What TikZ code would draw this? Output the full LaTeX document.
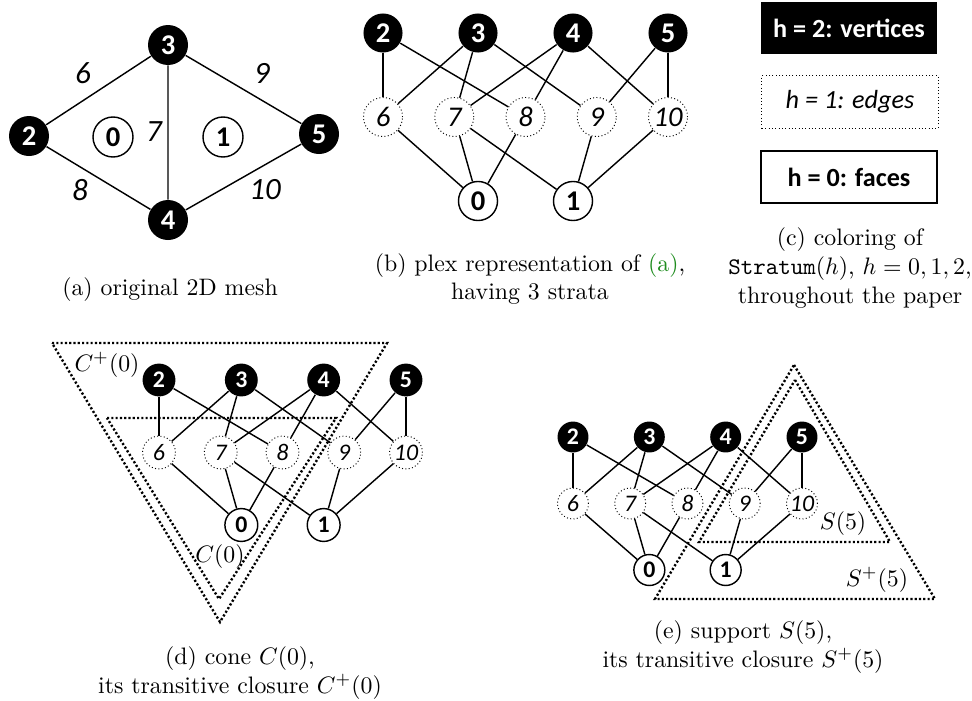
\documentclass[tikz,border=0pt]{standalone}
\usepackage{fontspec}
\newfontfamily\calibri{Carlito}
\usetikzlibrary{positioning}
\definecolor{linkgreen}{RGB}{30,140,30}

% one plex: name prefix, x of first/last column, y of top row, row gap
\newcommand{\plexgraph}[5]{%
  \foreach \p [count=\k from 0] in {2,3,4,5}
    \node[vert] (#1\p) at ({#2+\k*(#3-#2)/3},#4) {\p};
  \foreach \p [count=\k from 0] in {6,7,8,9,10}
    \node[edg] (#1\p) at ({#2+\k*(#3-#2)/4},{#4+#5}) {\p};
  \node[face] (#10) at ({#2+(#3-#2)/3},{#4+2*#5}) {0};
  \node[face] (#11) at ({#2+2*(#3-#2)/3},{#4+2*#5}) {1};
  \foreach \p/\q in {2/6,2/8,3/6,3/7,3/9,4/7,4/8,4/10,5/9,5/10,6/0,7/0,8/0,7/1,9/1,10/1}
    \draw[link] (#1\p) -- (#1\q);
}

\begin{document}
\begin{tikzpicture}[x=0.42pt,y=-0.42pt,
    vert/.style={circle,fill=black,text=white,inner sep=0pt,minimum size=\plexsize,font=\plexfont\calibri\bfseries},
    edg/.style={circle,draw,densely dotted,fill=white,inner sep=0pt,minimum size=\plexsize,font=\plexfont\calibri\itshape},
    face/.style={circle,draw,line width=0.6pt,fill=white,inner sep=0pt,minimum size=\plexsize,font=\plexfont\calibri\bfseries},
    link/.style={line width=0.6pt},
    closure/.style={line width=1pt,dash pattern=on 0.9pt off 0.9pt},
    elabel/.style={font=\fontsize{13}{13}\selectfont\calibri\itshape},
    legend/.style={minimum width=74pt,minimum height=22pt,inner sep=0pt,font=\fontsize{11}{13}\selectfont\calibri},
    subcap/.style={align=center,font=\fontsize{10}{12}\selectfont}]
    \useasboundingbox (0,0) rectangle (972,700);

    % (a) the mesh
    \def\plexsize{16.8pt}\def\plexfont{\fontsize{12}{12}\selectfont}
    \node[vert] (m2) at (29,136) {2};
    \node[vert] (m3) at (168,45) {3};
    \node[vert] (m4) at (168,220) {4};
    \node[vert] (m5) at (319,134) {5};
    \node[face] (m0) at (113,137) {0};
    \node[face] (m1) at (223,137) {1};
    \draw[link] (m2) -- (m3) (m3) -- (m5) (m2) -- (m4) (m4) -- (m5) (m3) -- (m4);
    \node[elabel] (l6) at (83,73) {6};
    \node[elabel] (l9) at (262,73) {9};
    \node[elabel] (l7) at (154,132) {7};
    \node[elabel] (l8) at (80,190) {8};
    \node[elabel] (l10) at (265,190) {10};
    \node[subcap] (capa) at (170,290) {(a) original 2D mesh};

    % (b) plex
    \def\plexsize{16.4pt}
    \plexgraph{b}{383}{668}{33}{84}
    \node[subcap] (capb) at (530,279) {(b) plex representation of \textcolor{linkgreen}{(a)},\\having 3 strata};

    % (c) legend
    \node[legend,fill=black,text=white] (lv) at (849,28) {\bfseries h = 2: vertices};
    \node[legend,draw,densely dotted] (le) at (850,102) {\itshape h = 1: edges};
    \node[legend,draw,line width=0.8pt] (lf) at (849,177) {\bfseries h = 0: faces};
    \node[subcap] (capc) at (850,268) {(c) coloring of\\\texttt{Stratum}$(h)$, $h=0,1,2$,\\throughout the paper};

    % (d) cone
    \def\plexsize{13.8pt}\def\plexfont{\fontsize{10}{10}\selectfont}
    \plexgraph{d}{159}{406}{380}{72.5}
    \draw[closure] (52,343) -- (387,343) -- (220,622) -- cycle;
    \draw[closure] (107,418) -- (336,418) -- (219,599) -- cycle;
    \node (cplus) at (107,365) {$C^+(0)$};
    \node (cone) at (220,557) {$C(0)$};
    \node[subcap] (capd) at (240,673) {(d) cone $C(0)$,\\its transitive closure $C^+(0)$};

    % (e) support
    \def\plexsize{13pt}
    \plexgraph{e}{573}{802}{437}{66.5}
    \draw[closure] (794,365) -- (935,599) -- (655,599) -- cycle;
    \draw[closure] (795,380) -- (890,542) -- (699,542) -- cycle;
    \node (supp) at (843,524) {$S(5)$};
    \node (splus) at (877,580) {$S^+(5)$};
    \node[subcap] (cape) at (743,647) {(e) support $S(5)$,\\its transitive closure $S^+(5)$};
\end{tikzpicture}
\end{document}
